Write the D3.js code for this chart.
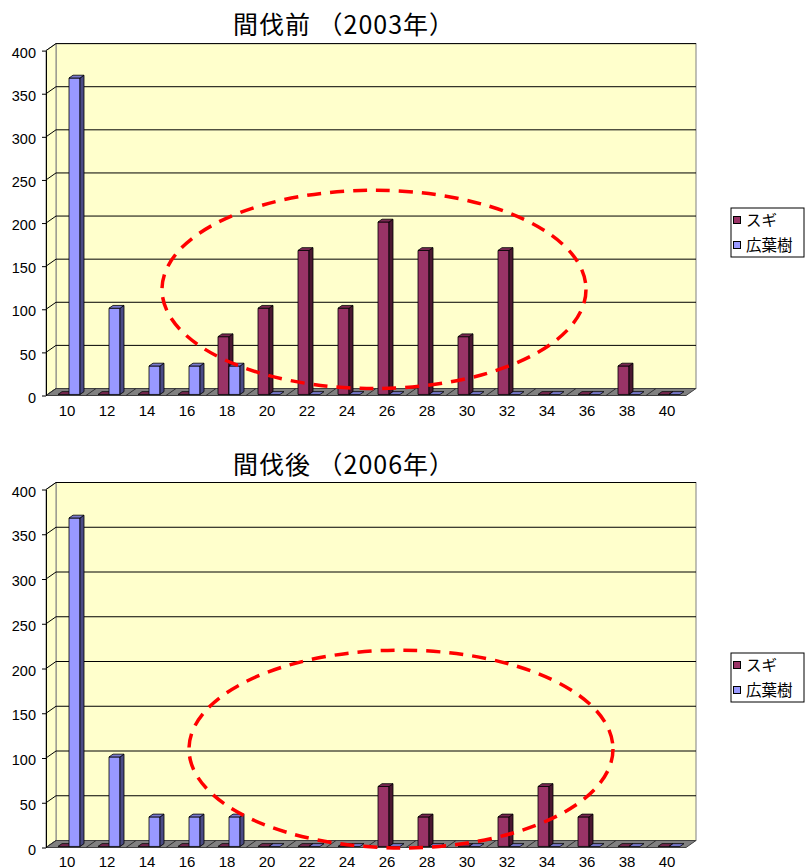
<!DOCTYPE html>
<html>
<head>
<meta charset="utf-8">
<script src="https://cdn.jsdelivr.net/npm/d3@7/dist/d3.min.js"></script>
<style>
  html, body { margin: 0; padding: 0; background: #fff; }
  svg { display: block; }
</style>
</head>
<body>
<svg id="chart" width="807" height="868"></svg>
<script>
// Diameter classes (cm)
const categories = ["10","12","14","16","18","20","22","24","26","28","30","32","34","36","38","40"];
const seriesNames = ["スギ", "広葉樹"];
const yTicks = [0, 50, 100, 150, 200, 250, 300, 350, 400];

// Stem counts per diameter class, before thinning (2003)
const sugi2003     = [0, 0, 0, 0, 67, 100, 167, 100, 200, 167, 67, 167, 0, 0, 33, 0];
const broadleaf2003 = [367, 100, 33, 33, 33, 0, 0, 0, 0, 0, 0, 0, 0, 0, 0, 0];
// Stem counts per diameter class, after thinning (2006)
const sugi2006     = [0, 0, 0, 0, 0, 0, 0, 0, 67, 33, 0, 33, 67, 33, 0, 0];
const broadleaf2006 = [367, 100, 33, 33, 33, 0, 0, 0, 0, 0, 0, 0, 0, 0, 0, 0];

const titles = ["間伐前 （2003年）", "間伐後 （2006年）"];

// Highlight ellipses: centre as (category index, value), radii in categories / values
const highlight2003 = { ci: 7.7, v: 123, rc: 5.3, rv: 115 };
const highlight2006 = { ci: 8.375, v: 110, rc: 5.3, rv: 110.5 };

const svg = d3.select("#chart");
const FONT_NUM = "'Liberation Sans', Arial, sans-serif";
const FONT_JP = "'Noto Sans CJK JP', sans-serif";

const faceColors = [
  { front: "#993366", top: "#7a2952", side: "#4a1830" },
  { front: "#9999FF", top: "#7b7bd0", side: "#4b4b85" }
];

function drawChart(cfg) {
  const g = svg.append("g");
  const DX = 10, DY = -7;            // depth offset from front plane to back wall
  const x = d3.scaleBand().domain(categories).range([46, 686]);
  const y = d3.scaleLinear().domain([0, 400]).range([cfg.bottom, cfg.top]);
  const P = (px, v, t) => [px + t * DX, y(v) + t * DY];
  const x0 = x.range()[0], x1 = x.range()[1];

  // title
  g.append("text")
    .attr("x", 344).attr("y", cfg.titleY)
    .attr("text-anchor", "middle")
    .style("font-family", FONT_JP).style("font-size", "25px")
    .style("letter-spacing", "1px")
    .text(cfg.title);

  // back wall
  g.append("rect")
    .attr("x", x0 + DX).attr("y", y(400) + DY)
    .attr("width", x1 - x0).attr("height", y(0) - y(400))
    .attr("fill", "#FFFFCC").attr("stroke", "#808080");
  // side wall
  g.append("polygon")
    .attr("points", [P(x0, 400, 0), P(x0, 400, 1), P(x0, 0, 1), P(x0, 0, 0)].map(p => p.join(",")).join(" "))
    .attr("fill", "#FFFFCC").attr("stroke", "#808080");

  // gridlines on side and back walls
  const grid = g.append("g");
  yTicks.filter(v => v > 0).forEach(v => {
    const a = P(x0, v, 0), b = P(x0, v, 1), c = P(x1, v, 1);
    grid.append("polyline")
      .attr("points", [a, b, c].map(p => p.join(",")).join(" "))
      .attr("fill", "none").attr("stroke", "#000").attr("stroke-width", 1);
  });

  // floor
  g.append("polygon")
    .attr("points", [P(x0, 0, 0), P(x1, 0, 0), P(x1, 0, 1), P(x0, 0, 1)].map(p => p.join(",")).join(" "))
    .attr("fill", "#808080").attr("stroke", "#404040").attr("stroke-width", 1);
  categories.forEach(c => {
    const a = P(x(c), 0, 0), b = P(x(c), 0, 1);
    g.append("line").attr("x1", a[0]).attr("y1", a[1]).attr("x2", b[0]).attr("y2", b[1])
      .attr("stroke", "#303030").attr("stroke-width", 1);
  });

  // 3D columns
  const tF = 0.15, tB = 0.55, barW = 11;
  const bars = g.append("g");
  categories.forEach((c, i) => {
    cfg.series.forEach((vals, s) => {
      const v = vals[i];
      const col = faceColors[s];
      const l = x(c) + 10.5 + s * barW, r = l + barW;
      const poly = (pts, fill) => bars.append("polygon")
        .attr("points", pts.map(p => p.join(",")).join(" "))
        .attr("fill", fill).attr("stroke", "#000").attr("stroke-width", 0.8)
        .attr("stroke-linejoin", "round");
      if (v > 0) {
        poly([P(l, 0, tF), P(r, 0, tF), P(r, v, tF), P(l, v, tF)], col.front);
        poly([P(r, 0, tF), P(r, 0, tB), P(r, v, tB), P(r, v, tF)], col.side);
      }
      poly([P(l, v, tF), P(r, v, tF), P(r, v, tB), P(l, v, tB)], col.top);
    });
  });

  // y axis on the front plane
  const yAxis = g.append("g")
    .attr("transform", `translate(${x0},0)`)
    .call(d3.axisLeft(y).tickValues(yTicks).tickSize(4).tickSizeOuter(0).tickPadding(6));
  yAxis.select(".domain").attr("stroke", "#000");
  yAxis.selectAll(".tick line").attr("stroke", "#000");
  yAxis.selectAll(".tick text")
    .attr("dy", "0.32em").attr("y", 2).attr("fill", "#000")
    .style("font-family", FONT_NUM).style("font-size", "14.5px");
  yAxis.attr("font-size", null).attr("font-family", null);

  // x axis labels
  const xAxis = g.append("g")
    .attr("transform", `translate(0,${y(0)})`)
    .call(d3.axisBottom(x).tickSize(0).tickPadding(cfg.labelPad));
  xAxis.select(".domain").remove();
  xAxis.selectAll(".tick text")
    .attr("fill", "#000").attr("dx", 1)
    .style("font-family", FONT_NUM).style("font-size", "15px");
  xAxis.attr("font-size", null).attr("font-family", null);

  // dashed highlight ellipse
  const h = cfg.highlight;
  const cx = x0 + x.bandwidth() * (h.ci + 0.5);
  g.append("ellipse")
    .attr("cx", cx).attr("cy", y(h.v))
    .attr("rx", x.bandwidth() * h.rc)
    .attr("ry", y(0) - y(h.rv))
    .attr("fill", "none").attr("stroke", "#FF0000")
    .attr("stroke-width", 3.5).attr("stroke-dasharray", "14,9");

  // legend
  const lg = g.append("g");
  lg.append("rect")
    .attr("x", 731).attr("y", cfg.legendY)
    .attr("width", 73).attr("height", 49)
    .attr("fill", "#fff").attr("stroke", "#000").attr("stroke-width", 1);
  seriesNames.forEach((name, s) => {
    const cy = cfg.legendY + 12 + s * 25;
    lg.append("rect")
      .attr("x", 733.5).attr("y", cy - 3.5).attr("width", 7).attr("height", 7)
      .attr("fill", faceColors[s].front).attr("stroke", "#000").attr("stroke-width", 1);
    lg.append("text")
      .attr("x", 746).attr("y", cy).attr("dy", "0.36em")
      .style("font-family", FONT_JP).style("font-size", "15.5px")
      .text(name);
  });
}

drawChart({
  title: titles[0], titleY: 34,
  top: 50.6, bottom: 395.5, labelPad: 10,
  series: [sugi2003, broadleaf2003],
  highlight: highlight2003,
  legendY: 208
});
drawChart({
  title: titles[1], titleY: 474,
  top: 489.5, bottom: 847.5, labelPad: 9,
  series: [sugi2006, broadleaf2006],
  highlight: highlight2006,
  legendY: 653
});
</script>
</body>
</html>
